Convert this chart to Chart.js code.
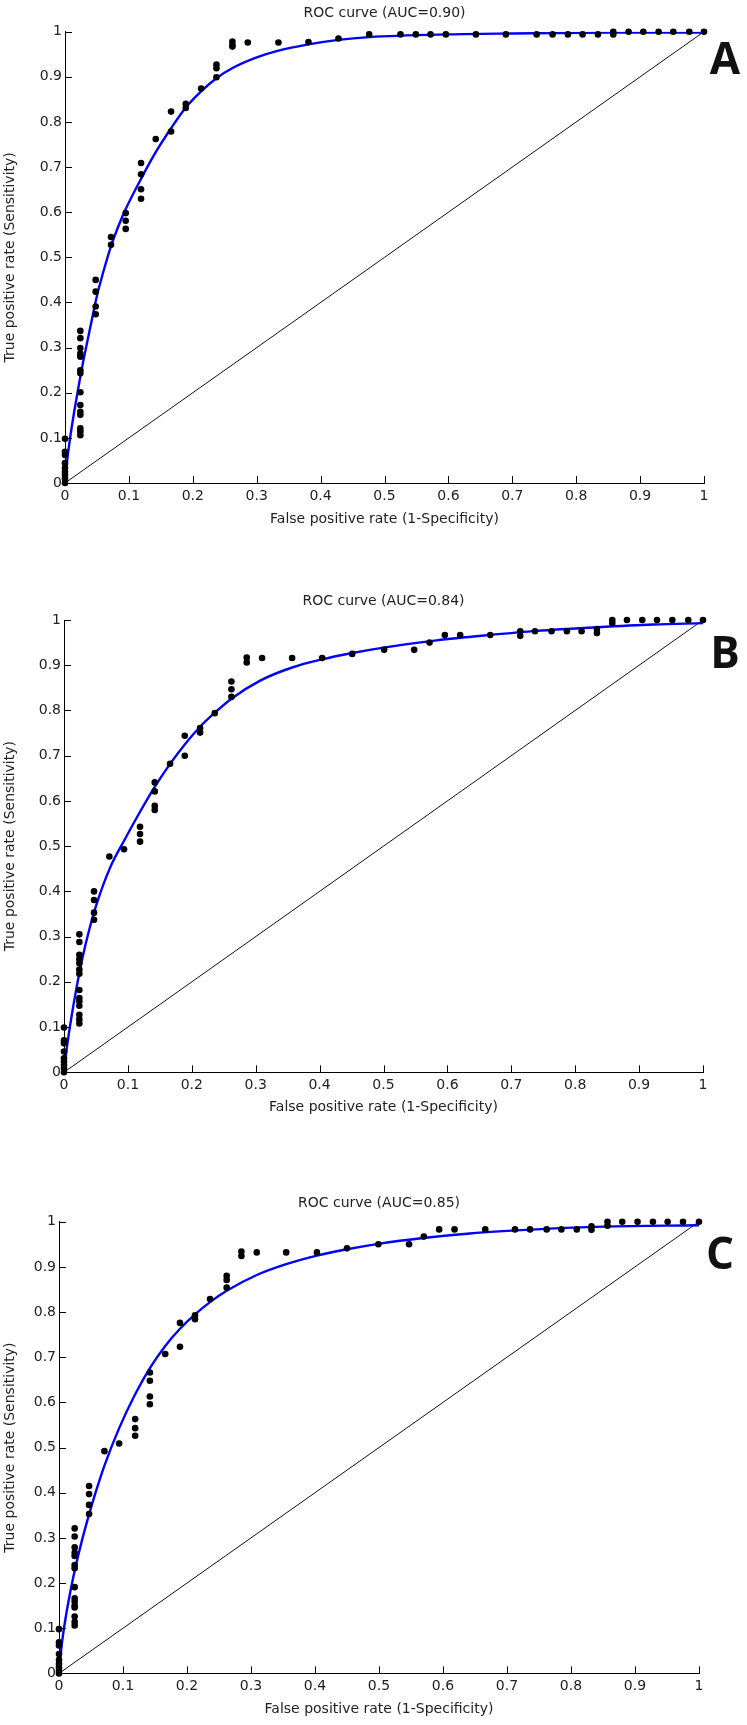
<!DOCTYPE html>
<html>
<head>
<meta charset="utf-8">
<title>ROC curves</title>
<script src="https://cdn.jsdelivr.net/npm/chart.js@4.4.1/dist/chart.umd.min.js"></script>
<style>
  body { margin: 0; background: #fff; width: 747px; height: 1725px; overflow: hidden; position: relative; }
  canvas { position: absolute; left: 0; }
</style>
</head>
<body>
<canvas id="rocA" width="747" height="560" style="top:0px"></canvas>
<canvas id="rocB" width="747" height="560" style="top:588px"></canvas>
<canvas id="rocC" width="747" height="560" style="top:1190px"></canvas>
<script>
// axis ticks, shared by all three panels
const tickValues = [0, 0.1, 0.2, 0.3, 0.4, 0.5, 0.6, 0.7, 0.8, 0.9, 1];
const tickLabels = ['0', '0.1', '0.2', '0.3', '0.4', '0.5', '0.6', '0.7', '0.8', '0.9', '1'];

// Panel A - observed operating points
const fprA = [0, 0, 0, 0, 0, 0, 0, 0, 0,
  0.024, 0.024, 0.024, 0.024, 0.024, 0.024, 0.024, 0.024, 0.024, 0.024, 0.024, 0.024, 0.024, 0.024,
  0.048, 0.048, 0.048, 0.048, 0.072, 0.072, 0.095, 0.095, 0.095, 0.119, 0.119, 0.119, 0.119,
  0.142, 0.166, 0.166, 0.189, 0.189, 0.213, 0.237, 0.237, 0.237, 0.262, 0.262, 0.262,
  0.286, 0.334, 0.381, 0.428, 0.476,
  0.525, 0.549, 0.572, 0.596, 0.643, 0.690, 0.738, 0.763, 0.787, 0.810, 0.834,
  0.858, 0.858, 0.882, 0.905, 0.929, 0.952, 0.977, 1.0];
const tprA = [0.098, 0.069, 0.062, 0.044, 0.033, 0.025, 0.018, 0.010, 0,
  0.337, 0.321, 0.299, 0.287, 0.280, 0.250, 0.243, 0.201, 0.173, 0.158, 0.151, 0.121, 0.114, 0.106,
  0.450, 0.424, 0.391, 0.374, 0.545, 0.528, 0.598, 0.581, 0.563, 0.709, 0.684, 0.651, 0.630,
  0.762, 0.823, 0.779, 0.840, 0.831, 0.874, 0.927, 0.919, 0.899, 0.978, 0.970, 0.967,
  0.976, 0.976, 0.977, 0.985, 0.994,
  0.994, 0.994, 0.994, 0.994, 0.994, 0.994, 0.994, 0.994, 0.994, 0.994, 0.994,
  1.0, 0.994, 1.0, 1.0, 1.0, 1.0, 1.0, 1.0];
// Panel A - fitted curve
const curveFprA = [0, 0.003, 0.008, 0.015, 0.023, 0.03, 0.04, 0.05, 0.06, 0.072, 0.085, 0.095, 0.119,
  0.142, 0.166, 0.189, 0.213, 0.237, 0.263, 0.3, 0.334, 0.381, 0.428, 0.476, 0.6, 0.7, 0.85, 1];
const curveTprA = [0, 0.045, 0.1, 0.163, 0.228, 0.28, 0.348, 0.415, 0.468, 0.525, 0.574, 0.607, 0.674,
  0.733, 0.786, 0.832, 0.868, 0.897, 0.92, 0.943, 0.958, 0.972, 0.982, 0.988, 0.994, 0.996, 0.998, 0.998];

// Panel B
const fprB = [0, 0, 0, 0, 0, 0, 0, 0, 0,
  0.024, 0.024, 0.024, 0.024, 0.024, 0.024, 0.024, 0.024, 0.024, 0.024, 0.024, 0.024, 0.024, 0.024,
  0.047, 0.047, 0.047, 0.047, 0.071, 0.094, 0.119, 0.119, 0.119, 0.142, 0.142, 0.142, 0.142,
  0.166, 0.189, 0.189, 0.213, 0.213, 0.236, 0.262, 0.262, 0.262, 0.286, 0.286,
  0.310, 0.357, 0.404, 0.451, 0.501, 0.548, 0.572, 0.596, 0.620, 0.667,
  0.714, 0.714, 0.737, 0.763, 0.787, 0.810, 0.834, 0.834, 0.858, 0.858,
  0.881, 0.905, 0.928, 0.952, 0.977, 1.0];
const tprB = [0.099, 0.071, 0.064, 0.046, 0.031, 0.024, 0.016, 0.009, 0,
  0.305, 0.288, 0.260, 0.250, 0.241, 0.227, 0.218, 0.182, 0.164, 0.157, 0.147, 0.127, 0.117, 0.108,
  0.400, 0.381, 0.353, 0.337, 0.477, 0.493, 0.543, 0.527, 0.510, 0.641, 0.621, 0.589, 0.580,
  0.682, 0.744, 0.700, 0.761, 0.751, 0.794, 0.864, 0.847, 0.830, 0.917, 0.906,
  0.916, 0.916, 0.916, 0.925, 0.934, 0.934, 0.950, 0.967, 0.967, 0.967,
  0.975, 0.965, 0.975, 0.975, 0.975, 0.975, 0.980, 0.971, 1.0, 0.993,
  1.0, 1.0, 1.0, 1.0, 1.0, 1.0];
const curveFprB = [0, 0.005, 0.012, 0.02, 0.03, 0.04, 0.051, 0.072, 0.094, 0.119, 0.142, 0.166, 0.189,
  0.213, 0.236, 0.262, 0.307, 0.357, 0.404, 0.451, 0.5, 0.583, 0.667, 0.74, 0.834, 0.922, 1];
const curveTprB = [0, 0.06, 0.125, 0.19, 0.26, 0.318, 0.372, 0.452, 0.512, 0.576, 0.631, 0.682, 0.725,
  0.764, 0.795, 0.826, 0.866, 0.895, 0.913, 0.927, 0.939, 0.955, 0.967, 0.976, 0.984, 0.99, 0.993];

// Panel C
const fprC = [0, 0, 0, 0, 0, 0, 0, 0, 0,
  0.0245, 0.0245, 0.0245, 0.0245, 0.0245, 0.0245, 0.0245, 0.0245, 0.0245, 0.0245, 0.0245, 0.0245, 0.0245, 0.0245, 0.0245,
  0.047, 0.047, 0.047, 0.047, 0.071, 0.094, 0.119, 0.119, 0.119, 0.142, 0.142, 0.142, 0.142,
  0.166, 0.189, 0.189, 0.2125, 0.2125, 0.236, 0.262, 0.262, 0.262, 0.285, 0.285,
  0.309, 0.355, 0.403, 0.450, 0.499, 0.547, 0.570, 0.594, 0.618, 0.666,
  0.7125, 0.736, 0.762, 0.785, 0.809, 0.832, 0.832, 0.857, 0.857,
  0.880, 0.904, 0.928, 0.951, 0.975, 1.0];
const tprC = [0.098, 0.069, 0.062, 0.043, 0.030, 0.021, 0.013, 0.006, 0,
  0.321, 0.303, 0.279, 0.267, 0.260, 0.240, 0.233, 0.191, 0.166, 0.159, 0.150, 0.146, 0.126, 0.114, 0.106,
  0.415, 0.397, 0.373, 0.353, 0.492, 0.509, 0.563, 0.543, 0.526, 0.666, 0.648, 0.613, 0.596,
  0.707, 0.776, 0.723, 0.793, 0.784, 0.829, 0.880, 0.871, 0.854, 0.934, 0.924,
  0.932, 0.932, 0.932, 0.941, 0.950, 0.950, 0.967, 0.983, 0.983, 0.983,
  0.983, 0.983, 0.983, 0.983, 0.983, 0.990, 0.982, 1.0, 0.991,
  1.0, 1.0, 1.0, 1.0, 1.0, 1.0];
const curveFprC = [0, 0.004, 0.01, 0.018, 0.027, 0.036, 0.047, 0.056, 0.071, 0.094, 0.119, 0.142, 0.166,
  0.189, 0.2125, 0.236, 0.262, 0.309, 0.355, 0.403, 0.45, 0.499, 0.569, 0.642, 0.746, 0.851, 1];
const curveTprC = [0, 0.06, 0.12, 0.183, 0.243, 0.295, 0.352, 0.395, 0.46, 0.543, 0.618, 0.676, 0.725,
  0.763, 0.795, 0.822, 0.847, 0.882, 0.906, 0.925, 0.939, 0.951, 0.964, 0.974, 0.983, 0.989, 0.992];

const chanceLine = [0, 1];

const textFont = '"DejaVu Sans", sans-serif';

// MATLAB style ticks pointing into the plot
const inwardTicks = {
  id: 'inwardTicks',
  afterDatasetsDraw(chart) {
    const { ctx, chartArea, scales: { x, y } } = chart;
    ctx.save();
    ctx.strokeStyle = '#000';
    ctx.lineWidth = 1;
    ctx.beginPath();
    x.ticks.forEach(t => {
      const px = Math.round(x.getPixelForValue(t.value)) + 0.5;
      ctx.moveTo(px, chartArea.bottom);
      ctx.lineTo(px, chartArea.bottom - 7);
    });
    y.ticks.forEach(t => {
      const py = Math.round(y.getPixelForValue(t.value)) + 0.5;
      ctx.moveTo(chartArea.left, py);
      ctx.lineTo(chartArea.left + 7, py);
    });
    ctx.stroke();
    ctx.restore();
  }
};

// big panel letter at the right of each plot
const panelLetter = {
  id: 'panelLetter',
  afterDraw(chart, args, opts) {
    const ctx = chart.ctx;
    ctx.save();
    ctx.font = 'bold 44px "Open Sans", sans-serif';
    ctx.fillStyle = '#111';
    ctx.textAlign = 'center';
    ctx.textBaseline = 'middle';
    ctx.fillText(opts.text, opts.x, opts.y);
    ctx.restore();
  }
};

function toPoints(xs, ys) {
  return xs.map((v, i) => ({ x: v, y: ys[i] }));
}

function makeRoc(canvasId, title, letter, box, fpr, tpr, curveFpr, curveTpr) {
  const ctx = document.getElementById(canvasId).getContext('2d');
  const canvasH = 560;
  return new Chart(ctx, {
    type: 'scatter',
    data: {
      datasets: [{
        label: 'observed',
        data: toPoints(fpr, tpr),
        backgroundColor: '#000',
        borderColor: '#000',
        pointRadius: 3.3,
        pointBorderWidth: 0,
        clip: false,
        order: 0
      }, {
        label: 'fitted',
        type: 'line',
        data: toPoints(curveFpr, curveTpr),
        borderColor: '#0000ff',
        borderWidth: 2.4,
        pointRadius: 0,
        fill: false,
        cubicInterpolationMode: 'monotone',
        order: 1
      }, {
        label: 'chance',
        type: 'line',
        data: toPoints(chanceLine, chanceLine),
        borderColor: '#111',
        borderWidth: 1,
        pointRadius: 0,
        fill: false,
        order: 2
      }]
    },
    options: {
      responsive: false,
      animation: false,
      devicePixelRatio: 1,
      layout: {
        autoPadding: false,
        padding: { top: 0, left: 0, right: 747 - box.right, bottom: 0 }
      },
      plugins: {
        legend: { display: false },
        tooltip: { enabled: false },
        title: {
          display: true,
          text: title,
          fullSize: false,
          color: '#222',
          font: { family: textFont, size: 14, weight: 'normal', lineHeight: 1.2 },
          padding: { top: 5, bottom: box.top - 5 - 16.8 }
        },
        panelLetter: letter
      },
      scales: {
        x: {
          type: 'linear',
          min: 0,
          max: 1,
          afterBuildTicks: s => { s.ticks = tickValues.map(v => ({ value: v })); },
          afterFit: s => { s.height = canvasH - box.bottom; },
          grid: { display: false, drawTicks: false },
          border: { display: true, color: '#000', width: 1 },
          ticks: {
            color: '#222',
            padding: 5,
            maxRotation: 0,
            font: { family: textFont, size: 14 },
            callback: (v, i) => tickLabels[i]
          },
          title: {
            display: true,
            text: 'False positive rate (1-Specificity)',
            color: '#222',
            font: { family: textFont, size: 14, lineHeight: 1.2 },
            padding: { top: 0, bottom: 32 }
          }
        },
        y: {
          type: 'linear',
          min: 0,
          max: 1,
          afterBuildTicks: s => { s.ticks = tickValues.map(v => ({ value: v })); },
          afterFit: s => { s.width = box.left; },
          grid: { display: false, drawTicks: false },
          border: { display: true, color: '#000', width: 1 },
          ticks: {
            color: '#222',
            padding: 3,
            font: { family: textFont, size: 14 },
            callback: (v, i) => tickLabels[i]
          },
          title: {
            display: true,
            text: 'True positive rate (Sensitivity)',
            color: '#222',
            font: { family: textFont, size: 14, lineHeight: 1.2 },
            padding: { top: 2, bottom: 0 }
          }
        }
      }
    },
    plugins: [inwardTicks, panelLetter]
  });
}

makeRoc('rocA', 'ROC curve (AUC=0.90)', { text: 'A', x: 725, y: 61 },
  { left: 65, right: 704, top: 31.7, bottom: 483 }, fprA, tprA, curveFprA, curveTprA);
makeRoc('rocB', 'ROC curve (AUC=0.84)', { text: 'B', x: 725, y: 67 },
  { left: 64, right: 703, top: 32, bottom: 484.3 }, fprB, tprB, curveFprB, curveTprB);
makeRoc('rocC', 'ROC curve (AUC=0.85)', { text: 'C', x: 720, y: 66 },
  { left: 59, right: 699, top: 31.7, bottom: 483.4 }, fprC, tprC, curveFprC, curveTprC);
</script>
</body>
</html>
